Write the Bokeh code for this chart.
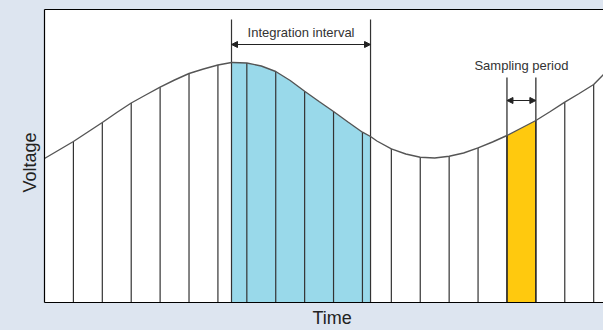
from bokeh.plotting import figure
from bokeh.embed import file_html
from bokeh.resources import INLINE
from bokeh.core.properties import value
from bokeh.models import (Arrow, NormalHead, GlobalInlineStyleSheet,
                          LinearAxis, FixedTicker, Title)

# ---- data (time in sample periods, voltage in arbitrary units) ----
t_curve = [0, 0.5, 1, 1.5, 2, 2.5, 3, 3.5, 4, 4.5, 5, 5.5, 6, 6.47, 6.5, 7, 7.5,
           8, 8.5, 9, 9.5, 10, 10.5, 11, 11.28, 11.5, 12, 12.5, 13, 13.5, 14,
           14.5, 15, 15.5, 16, 16.5, 17, 17.5, 18, 18.5, 19, 19.34]
v_curve = [144, 152.5, 161, 170.5, 180, 190, 199.5, 207.5, 215.3, 222.5, 229,
           233.5, 237.5, 240, 240, 239.5, 236.5, 231, 222, 211.3, 201, 191,
           180.5, 170.3, 166, 161.5, 153.7, 148.5, 145.3, 144.5, 146.3, 149.5,
           154.7, 160.5, 167, 174.5, 182, 191, 200.3, 209, 218, 228]
sample_times = list(range(1, 20))
integ_start, integ_end = 6.47, 11.28
sample_start, sample_end = 16, 17
x_title, y_title = "Time", "Voltage"

BG = "#dde5f0"
FONT = value("Liberation Sans")

p = figure(width=603, height=330, output_backend="svg", toolbar_location=None,
           x_range=(0, 19.34), y_range=(0, 293),
           min_border_left=44, min_border_top=9, min_border_bottom=28,
           min_border_right=0)
p.background_fill_color = "white"
p.border_fill_color = BG
p.outline_line_color = None
p.grid.visible = False
p.stylesheets = [GlobalInlineStyleSheet(
    css="html,body{background:%s;margin:0;padding:0;overflow:hidden;}" % BG)]

p.add_layout(LinearAxis(), "above")
for ax in p.axis:
    ax.ticker = FixedTicker(ticks=[])
    ax.major_tick_line_color = None
    ax.minor_tick_line_color = None
    ax.major_tick_out = 0
    ax.major_tick_in = 0
    ax.major_label_standoff = 0
    ax.axis_line_color = "black"
    ax.axis_line_width = 1.2

p.add_layout(Title(text=x_title, align="left", offset=268, standoff=6,
                   text_font="Liberation Sans", text_font_size="18px",
                   text_font_style="normal", text_color="#222222"), "below")
p.add_layout(Title(text=y_title, align="left", offset=110, standoff=9,
                   text_font="Liberation Sans", text_font_size="18px",
                   text_font_style="normal", text_color="#222222"), "left")

lookup = dict(zip(t_curve, v_curve))

# filled areas
ix = [t for t in t_curve if integ_start <= t <= integ_end]
p.varea(x=ix, y1=[0] * len(ix), y2=[lookup[t] for t in ix], fill_color="#99d9ea")
sx = [t for t in t_curve if sample_start <= t <= sample_end]
p.varea(x=sx, y1=[0] * len(sx), y2=[lookup[t] for t in sx], fill_color="#ffc90e")

# sample lines
p.segment(x0=sample_times, y0=[0] * len(sample_times), x1=sample_times,
          y1=[lookup[t] for t in sample_times], line_color="#333333", line_width=1.2)

# integration interval markers
p.segment(x0=[integ_start, integ_end], y0=[0, 0], x1=[integ_start, integ_end],
          y1=[283, 283], line_color="#333333", line_width=1.2)
p.add_layout(Arrow(start=NormalHead(size=6, fill_color="#222222", line_color="#222222"),
                   end=NormalHead(size=6, fill_color="#222222", line_color="#222222"),
                   x_start=integ_start, y_start=258, x_end=integ_end, y_end=258,
                   line_color="#222222", line_width=1))
p.text(x=[(integ_start + integ_end) / 2], y=[270], text=["Integration interval"],
       text_align="center", text_baseline="middle", text_font=FONT,
       text_font_size="13px", text_color="#333333")

# sampling period markers
p.segment(x0=[sample_start, sample_end], y0=[0, 0], x1=[sample_start, sample_end],
          y1=[225, 225], line_color="#222222", line_width=1.2)
p.add_layout(Arrow(start=NormalHead(size=6, fill_color="#222222", line_color="#222222"),
                   end=NormalHead(size=6, fill_color="#222222", line_color="#222222"),
                   x_start=sample_start, y_start=202, x_end=sample_end, y_end=202,
                   line_color="#222222", line_width=1))
p.text(x=[(sample_start + sample_end) / 2], y=[237], text=["Sampling period"],
       text_align="center", text_baseline="middle", text_font=FONT,
       text_font_size="13px", text_color="#333333")

# the signal curve
p.line(t_curve, v_curve, line_color="#555555", line_width=1.4)

open("out.html", "w").write(file_html(p, INLINE))
